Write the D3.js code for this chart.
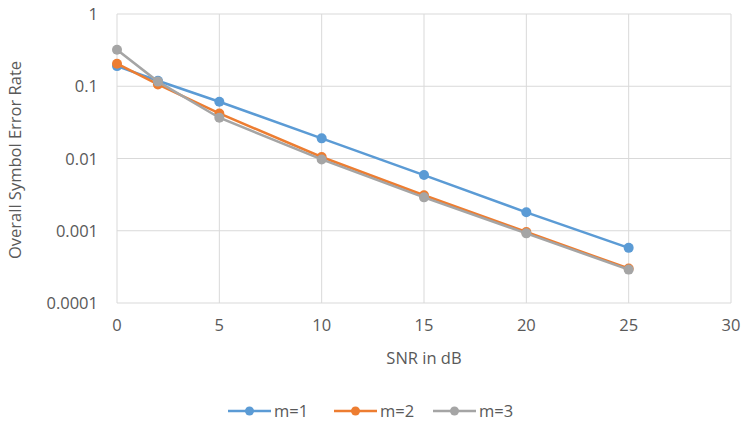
<!DOCTYPE html>
<html>
<head>
<meta charset="utf-8">
<script src="https://cdn.jsdelivr.net/npm/d3@7"></script>
<style>
  body { margin: 0; background: #fff; }
  svg text { font-family: "Open Sans", "Liberation Sans", sans-serif; fill: #595959; }
</style>
</head>
<body>
<script>
// data
const snr = [0, 2, 5, 10, 15, 20, 25]
const m1 = [0.19, 0.119, 0.061, 0.019, 0.0059, 0.0018, 0.00058]
const m2 = [0.205, 0.106, 0.042, 0.0105, 0.0031, 0.00096, 0.0003]
const m3 = [0.32, 0.116, 0.0367, 0.0097, 0.0029, 0.00092, 0.00029]
const seriesNames = ["m=1", "m=2", "m=3"]
const seriesColors = ["#5B9BD5", "#ED7D31", "#A5A5A5"]
const xTicks = [0, 5, 10, 15, 20, 25, 30]
const yTicks = [1, 0.1, 0.01, 0.001, 0.0001]
const yTickLabels = ["1", "0.1", "0.01", "0.001", "0.0001"]

const width = 742, height = 428
const plot = { left: 117, right: 731, top: 14, bottom: 303 }
const fontSize = "16.5px"

const svg = d3.select("body").append("svg")
  .attr("width", width)
  .attr("height", height)

const x = d3.scaleLinear().domain([0, 30]).range([plot.left, plot.right])
const y = d3.scaleLog().domain([0.0001, 1]).range([plot.bottom, plot.top])

// grid
svg.append("g")
  .selectAll("line")
  .data(xTicks)
  .join("line")
  .attr("x1", d => x(d)).attr("x2", d => x(d))
  .attr("y1", plot.top).attr("y2", plot.bottom)
  .attr("stroke", "#d9d9d9").attr("stroke-width", 1)

svg.append("g")
  .selectAll("line")
  .data(yTicks)
  .join("line")
  .attr("x1", plot.left).attr("x2", plot.right)
  .attr("y1", d => y(d)).attr("y2", d => y(d))
  .attr("stroke", "#d9d9d9").attr("stroke-width", 1)

// tick labels
svg.append("g")
  .selectAll("text")
  .data(yTicks)
  .join("text")
  .attr("x", plot.left - 19)
  .attr("y", d => y(d) + 6)
  .attr("text-anchor", "end")
  .style("font-size", fontSize)
  .text((d, i) => yTickLabels[i])

svg.append("g")
  .selectAll("text")
  .data(xTicks)
  .join("text")
  .attr("x", d => x(d))
  .attr("y", plot.bottom + 28)
  .attr("text-anchor", "middle")
  .style("font-size", fontSize)
  .text(d => d)

// axis titles
svg.append("text")
  .attr("x", (plot.left + plot.right) / 2)
  .attr("y", 364)
  .attr("text-anchor", "middle")
  .style("font-size", fontSize)
  .text("SNR in dB")

svg.append("text")
  .attr("transform", `translate(21, 160) rotate(-90)`)
  .attr("text-anchor", "middle")
  .style("font-size", fontSize)
  .text("Overall Symbol Error Rate")

// series
const allSeries = [m1, m2, m3]
const line = d3.line().x((d, i) => x(snr[i])).y(d => y(d))

allSeries.forEach((vals, s) => {
  const g = svg.append("g")
  g.append("path")
    .datum(vals)
    .attr("d", line)
    .attr("fill", "none")
    .attr("stroke", seriesColors[s])
    .attr("stroke-width", 2.5)
  g.selectAll("circle")
    .data(vals)
    .join("circle")
    .attr("cx", (d, i) => x(snr[i]))
    .attr("cy", d => y(d))
    .attr("r", 5)
    .attr("fill", seriesColors[s])
})

// legend
const legendX = [228, 334, 433]
const legend = svg.append("g")
seriesNames.forEach((name, s) => {
  const lg = legend.append("g").attr("transform", `translate(${legendX[s]}, 411)`)
  lg.append("line")
    .attr("x1", 0).attr("x2", 43)
    .attr("stroke", seriesColors[s]).attr("stroke-width", 2.5)
  lg.append("circle").attr("cx", 21.5).attr("r", 4.5).attr("fill", seriesColors[s])
  lg.append("text")
    .attr("x", 46).attr("y", 6)
    .style("font-size", fontSize)
    .text(name)
})
</script>
</body>
</html>
